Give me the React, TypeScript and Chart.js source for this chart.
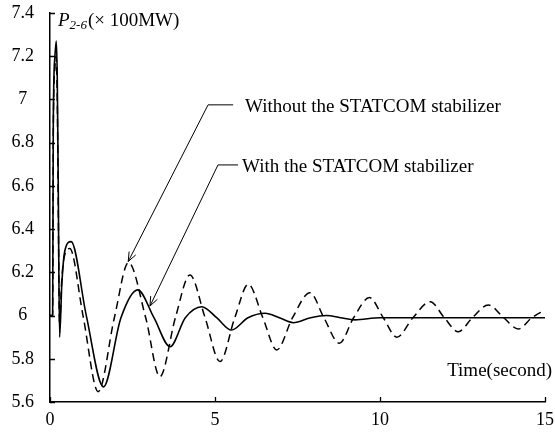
import React, { useEffect, useRef } from "react";
import { Chart, registerables } from "chart.js";

Chart.register(...registerables);

// With the STATCOM stabilizer (solid)
const timeWith = [0, 0.08, 0.1, 0.15, 0.19, 0.22, 0.25, 0.29, 0.36, 0.45, 0.64, 1.1, 1.62, 2.15, 2.66, 3.15, 3.64, 4.1, 4.6, 5.05, 5.5, 6.0, 6.52, 6.95, 7.37, 7.9, 8.38, 8.8, 9.24, 10, 11, 12, 13, 14, 15];
const powerWith = [6.0, 6.0, 6.9, 7.2, 7.27, 7.1, 6.6, 5.9, 6.15, 6.3, 6.342, 6.0, 5.67, 5.99, 6.119, 5.99, 5.856, 5.99, 6.041, 5.99, 5.933, 5.99, 6.011, 5.99, 5.967, 5.99, 6.0, 5.99, 5.98, 5.99, 5.99, 5.99, 5.99, 5.99, 5.99];

// Without the STATCOM stabilizer (dashed)
const timeWithout = [0, 0.08, 0.1, 0.15, 0.18, 0.22, 0.25, 0.29, 0.35, 0.43, 0.6, 1.0, 1.46, 1.95, 2.38, 2.9, 3.33, 3.8, 4.24, 4.7, 5.15, 5.6, 6.01, 6.45, 6.87, 7.35, 7.88, 8.3, 8.77, 9.2, 9.68, 10.1, 10.51, 11.0, 11.52, 11.95, 12.37, 12.8, 13.28, 13.75, 14.19, 14.6, 15.0];
const powerWithout = [6.0, 6.0, 6.85, 7.15, 7.2, 7.0, 6.5, 5.95, 6.15, 6.27, 6.31, 6.0, 5.648, 5.99, 6.245, 5.99, 5.717, 5.99, 6.188, 5.99, 5.787, 5.99, 6.145, 5.99, 5.841, 5.99, 6.106, 5.99, 5.872, 5.99, 6.083, 5.99, 5.9, 5.99, 6.064, 5.99, 5.925, 5.99, 6.049, 5.99, 5.938, 5.99, 6.026];

const yTickValues = [5.6, 5.8, 6.0, 6.2, 6.4, 6.6, 6.8, 7.0, 7.2, 7.4];
const xTickValues = [0, 5, 10, 15];

const xAxisTitle = "Time(second)";
const yAxisSymbol = "P";
const yAxisSub = "2-6";
const yAxisUnit = "(× 100MW)";

// Annotation callouts, in data coordinates
const annotationLabels = ["Without the STATCOM stabilizer", "With the STATCOM stabilizer"];
const annotationTipT = [2.37, 3.03];
const annotationTipP = [6.25, 6.044];
const annotationElbowT = [4.79, 5.09];
const annotationElbowP = [6.975, 6.697];
const annotationLineEndT = [5.55, 5.7];
const annotationTextT = [5.91, 5.82];

const SERIF = "'Liberation Serif', 'Times New Roman', serif";

const overlayPlugin = {
  id: "overlay",
  afterDraw(chart: any) {
    const ctx = chart.ctx;
    const xs = chart.scales.x;
    const ys = chart.scales.y;
    const area = chart.chartArea;
    ctx.save();
    // inward tick marks
    ctx.strokeStyle = "#000";
    ctx.lineWidth = 1.3;
    ctx.beginPath();
    yTickValues.forEach((v) => {
      const y = Math.round(ys.getPixelForValue(v)) + 0.5;
      ctx.moveTo(area.left, y);
      ctx.lineTo(area.left + 5, y);
    });
    xTickValues.forEach((v) => {
      const x = Math.round(xs.getPixelForValue(v)) + 0.5;
      ctx.moveTo(x, area.bottom);
      ctx.lineTo(x, area.bottom - 5);
    });
    ctx.stroke();

    // callouts
    ctx.lineWidth = 1;
    for (let i = 0; i < annotationLabels.length; i++) {
      const tx = xs.getPixelForValue(annotationTipT[i]);
      const ty = ys.getPixelForValue(annotationTipP[i]);
      const ex = xs.getPixelForValue(annotationElbowT[i]);
      const ey = ys.getPixelForValue(annotationElbowP[i]);
      const hx = xs.getPixelForValue(annotationLineEndT[i]);
      ctx.beginPath();
      ctx.moveTo(tx, ty);
      ctx.lineTo(ex, ey);
      ctx.lineTo(hx, ey);
      ctx.stroke();
      const ang = Math.atan2(ey - ty, ex - tx);
      const len = 10;
      const spread = 0.38;
      ctx.beginPath();
      ctx.moveTo(tx + len * Math.cos(ang - spread), ty + len * Math.sin(ang - spread));
      ctx.lineTo(tx, ty);
      ctx.lineTo(tx + len * Math.cos(ang + spread), ty + len * Math.sin(ang + spread));
      ctx.stroke();
      ctx.fillStyle = "#000";
      ctx.font = `19px ${SERIF}`;
      ctx.textAlign = "left";
      ctx.textBaseline = "middle";
      ctx.fillText(annotationLabels[i], xs.getPixelForValue(annotationTextT[i]), ey + 2);
    }

    // axis titles
    ctx.fillStyle = "#000";
    ctx.textBaseline = "alphabetic";
    ctx.textAlign = "left";
    let x = area.left + 8;
    const base = area.top + 13;
    ctx.font = `italic 19px ${SERIF}`;
    ctx.fillText(yAxisSymbol, x, base);
    x += ctx.measureText(yAxisSymbol).width;
    ctx.font = `italic 13px ${SERIF}`;
    ctx.fillText(yAxisSub, x, base + 3);
    x += ctx.measureText(yAxisSub).width + 1;
    ctx.font = `19px ${SERIF}`;
    ctx.fillText(yAxisUnit, x, base);

    ctx.textAlign = "right";
    ctx.textBaseline = "middle";
    ctx.fillText(xAxisTitle, 552, ys.getPixelForValue(5.745));
    ctx.restore();
  },
};

export default function App() {
  const canvasRef = useRef<HTMLCanvasElement | null>(null);

  useEffect(() => {
    const canvas = canvasRef.current;
    if (!canvas) return;
    const chart = new Chart(canvas, {
      type: "line",
      data: {
        datasets: [
          {
            label: "Without the STATCOM stabilizer",
            data: timeWithout.map((t, i) => ({ x: t, y: powerWithout[i] })),
            borderColor: "#000",
            borderWidth: 1.5,
            borderDash: [8, 5],
            pointRadius: 0,
            cubicInterpolationMode: "monotone",
            fill: false,
          },
          {
            label: "With the STATCOM stabilizer",
            data: timeWith.map((t, i) => ({ x: t, y: powerWith[i] })),
            borderColor: "#000",
            borderWidth: 1.6,
            pointRadius: 0,
            cubicInterpolationMode: "monotone",
            fill: false,
          },
        ],
      },
      options: {
        animation: false,
        responsive: false,
        devicePixelRatio: 1,
        layout: { padding: { top: 13, right: 10, left: 0, bottom: 0 } },
        plugins: {
          legend: { display: false },
          tooltip: { enabled: false },
        },
        scales: {
          x: {
            type: "linear",
            min: 0,
            max: 15,
            grid: { display: false, drawTicks: false },
            border: { display: true, color: "#000", width: 1.5 },
            ticks: {
              stepSize: 5,
              padding: 7,
              color: "#000",
              font: { family: SERIF, size: 18 },
              maxRotation: 0,
              autoSkip: false,
            },
            afterFit(scale: any) {
              scale.height = 30;
              scale.paddingLeft = 0;
              scale.paddingRight = 0;
            },
          },
          y: {
            type: "linear",
            min: 5.6,
            max: 7.4,
            grid: { display: false, drawTicks: false },
            border: { display: true, color: "#000", width: 1.5 },
            ticks: {
              stepSize: 0.2,
              padding: 16,
              crossAlign: "center",
              color: "#000",
              font: { family: SERIF, size: 18 },
              autoSkip: false,
              callback: (v: any) => String(Number(Number(v).toFixed(1))),
            },
            afterFit(scale: any) {
              scale.width = 50;
              scale.paddingTop = 0;
              scale.paddingBottom = 0;
            },
          },
        },
      },
      plugins: [overlayPlugin],
    } as any);
    return () => chart.destroy();
  }, []);

  return (
    <div style={{ position: "absolute", left: 0, top: 0, width: 555, height: 432, background: "#fff" }}>
      <canvas ref={canvasRef} width={555} height={432} style={{ width: 555, height: 432 }} />
    </div>
  );
}
